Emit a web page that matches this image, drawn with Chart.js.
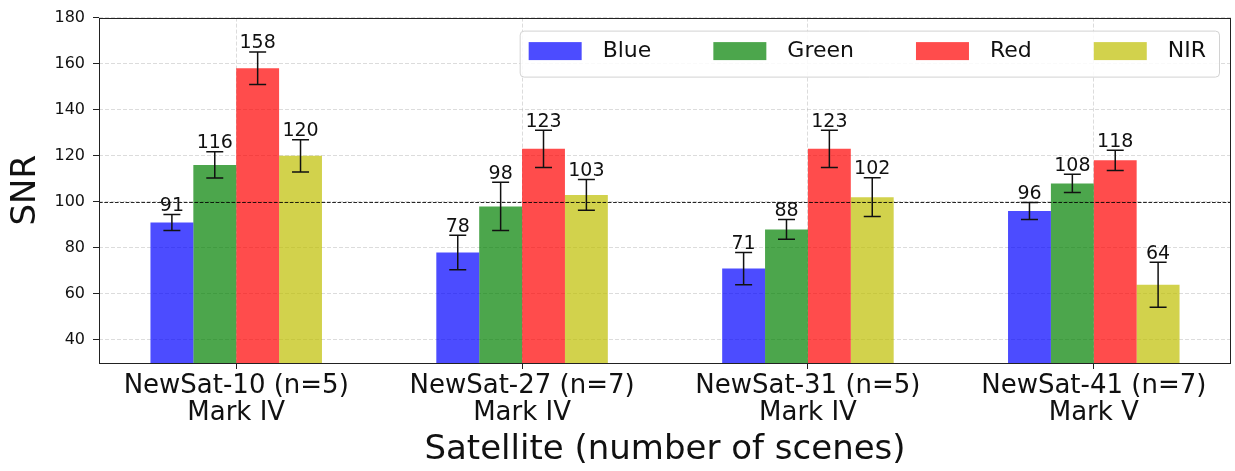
<!DOCTYPE html>
<html>
<head>
<meta charset="utf-8">
<script src="https://cdn.jsdelivr.net/npm/chart.js@4.4.1/dist/chart.umd.min.js"></script>
<style>
  html, body { margin: 0; padding: 0; background: #ffffff; }
  canvas { display: block; }
</style>
</head>
<body>
<canvas id="snrChart" width="1235" height="471"></canvas>
<script>
// Satellites (two-line tick labels) and band names
const satellites = [
  ['NewSat-10 (n=5)', 'Mark IV'],
  ['NewSat-27 (n=7)', 'Mark IV'],
  ['NewSat-31 (n=5)', 'Mark IV'],
  ['NewSat-41 (n=7)', 'Mark V']
];
const bandNames = ['Blue', 'Green', 'Red', 'NIR'];

// Mean SNR per band and satellite
const snrBlue  = [91, 78, 71, 96];
const snrGreen = [116, 98, 88, 108];
const snrRed   = [158, 123, 123, 118];
const snrNir   = [120, 103, 102, 64];

// Standard deviation of SNR (error bar half-lengths)
const errBlue  = [3.5, 7.5, 7.0, 3.7];
const errGreen = [5.7, 10.5, 4.3, 4.0];
const errRed   = [7.1, 8.1, 8.1, 4.4];
const errNir   = [7.0, 6.7, 8.4, 9.8];

// Y-axis tick values and the SNR reference level
const yTicks = [40, 60, 80, 100, 120, 140, 160, 180];
const snrReference = 100;

const bandColors = [
  'rgba(0, 0, 255, 0.7)',
  'rgba(0, 128, 0, 0.7)',
  'rgba(255, 0, 0, 0.7)',
  'rgba(191, 191, 0, 0.7)'
];
const bandValues = [snrBlue, snrGreen, snrRed, snrNir];
const bandErrors = [errBlue, errGreen, errRed, errNir];

const FONT = "'DejaVu Sans', 'Liberation Sans', sans-serif";

const datasets = bandNames.map((name, b) => ({
  label: name,
  data: bandValues[b].map((v, i) => ({ x: i, y: v })),
  errors: bandErrors[b],
  backgroundColor: bandColors[b],
  borderWidth: 0,
  categoryPercentage: 0.6,
  barPercentage: 1.0
}));

// Dashed reference line, error bars, value labels, frame and legend
const overlayPlugin = {
  id: 'overlay',
  afterDatasetsDraw(chart) {
    const { ctx, chartArea: area, scales: { x, y } } = chart;
    ctx.save();

    // reference SNR line
    const yRef = Math.round(y.getPixelForValue(snrReference)) + 0.5;
    ctx.beginPath();
    ctx.setLineDash([3.7, 1.6]);
    ctx.strokeStyle = 'rgba(0,0,0,0.85)';
    ctx.lineWidth = 1;
    ctx.moveTo(area.left, yRef);
    ctx.lineTo(area.right, yRef);
    ctx.stroke();
    ctx.setLineDash([]);

    // error bars and value labels
    chart.data.datasets.forEach((ds, di) => {
      const meta = chart.getDatasetMeta(di);
      meta.data.forEach((bar, i) => {
        const v = ds.data[i].y;
        const e = ds.errors[i];
        const cx = bar.x;
        const yTop = y.getPixelForValue(v + e);
        const yBot = y.getPixelForValue(v - e);
        const cap = 8.5;
        ctx.strokeStyle = '#111';
        ctx.lineWidth = 1.5;
        ctx.beginPath();
        ctx.moveTo(cx, yTop); ctx.lineTo(cx, yBot);
        ctx.moveTo(cx - cap, yTop); ctx.lineTo(cx + cap, yTop);
        ctx.moveTo(cx - cap, yBot); ctx.lineTo(cx + cap, yBot);
        ctx.stroke();

        ctx.fillStyle = '#111';
        ctx.font = '19px ' + FONT;
        ctx.textAlign = 'center';
        ctx.textBaseline = 'alphabetic';
        ctx.fillText(String(v), cx, yTop - 3.5);
      });
    });

    // plot frame
    ctx.strokeStyle = '#222';
    ctx.lineWidth = 1;
    ctx.strokeRect(Math.round(area.left) + 0.5, Math.round(area.top) + 0.5,
                   Math.round(area.right - area.left) - 1, Math.round(area.bottom - area.top));

    // legend (single row, upper right)
    ctx.font = '22px ' + FONT;
    const swW = 53, swH = 18, swGap = 21, colGap = 62, padL = 9, padR = 13;
    const textW = chart.data.datasets.map(ds => ctx.measureText(ds.label).width);
    let total = padL + padR;
    textW.forEach((w, k) => { total += swW + swGap + w + (k < textW.length - 1 ? colGap : 0); });
    const boxRight = area.right - 12;
    const boxLeft = boxRight - total;
    const boxTop = area.top + 13;
    const boxH = 46;
    ctx.beginPath();
    ctx.roundRect(boxLeft + 0.5, boxTop + 0.5, total, boxH, 4);
    ctx.fillStyle = 'rgba(255,255,255,0.85)';
    ctx.fill();
    ctx.strokeStyle = '#d2d2d2';
    ctx.lineWidth = 1;
    ctx.stroke();

    const cy = boxTop + 20.5;
    let cursor = boxLeft + padL;
    chart.data.datasets.forEach((ds, k) => {
      ctx.fillStyle = ds.backgroundColor;
      ctx.fillRect(cursor, cy - swH / 2, swW, swH);
      cursor += swW + swGap;
      ctx.fillStyle = '#111';
      ctx.textAlign = 'left';
      ctx.textBaseline = 'middle';
      ctx.fillText(ds.label, cursor, cy);
      cursor += textW[k] + colGap;
    });

    ctx.restore();
  }
};

const gridStyle = {
  color: 'rgba(175,175,175,0.55)',
  lineWidth: 0.8,
  offset: false,
  drawTicks: true,
  tickLength: 6,
  tickColor: '#222',
  tickWidth: 1,
  tickBorderDash: []
};

new Chart(document.getElementById('snrChart'), {
  type: 'bar',
  data: { datasets },
  options: {
    responsive: false,
    animation: false,
    devicePixelRatio: 1,
    layout: { padding: { top: 13, right: 4, left: 0, bottom: 0 } },
    plugins: {
      legend: { display: false },
      tooltip: { enabled: false }
    },
    scales: {
      x: {
        type: 'linear',
        min: -0.48,
        max: 3.48,
        offset: false,
        afterBuildTicks: (scale) => { scale.ticks = satellites.map((_, i) => ({ value: i })); },
        afterFit: (scale) => { scale.height = 108; },
        border: { display: false, dash: [4, 2] },
        grid: gridStyle,
        ticks: {
          autoSkip: false,
          maxRotation: 0,
          padding: 3,
          color: '#111',
          font: { family: FONT, size: 26, lineHeight: 1.06 },
          callback: (value, index) => satellites[index]
        },
        title: {
          display: true,
          text: 'Satellite (number of scenes)',
          color: '#111',
          font: { family: FONT, size: 34, lineHeight: 1 },
          padding: { top: 0, bottom: 4 }
        }
      },
      y: {
        type: 'linear',
        min: 30,
        max: 180,
        afterBuildTicks: (scale) => { scale.ticks = yTicks.map(v => ({ value: v })); },
        afterFit: (scale) => { scale.width = 99; },
        border: { display: false, dash: [4, 2] },
        grid: gridStyle,
        ticks: {
          padding: 8,
          color: '#111',
          font: { family: FONT, size: 16 },
          callback: (value) => String(value)
        },
        title: {
          display: true,
          text: 'SNR',
          color: '#111',
          font: { family: FONT, size: 34, lineHeight: 1 },
          padding: { top: 9.5, bottom: 0 }
        }
      }
    }
  },
  plugins: [overlayPlugin]
});
</script>
</body>
</html>
